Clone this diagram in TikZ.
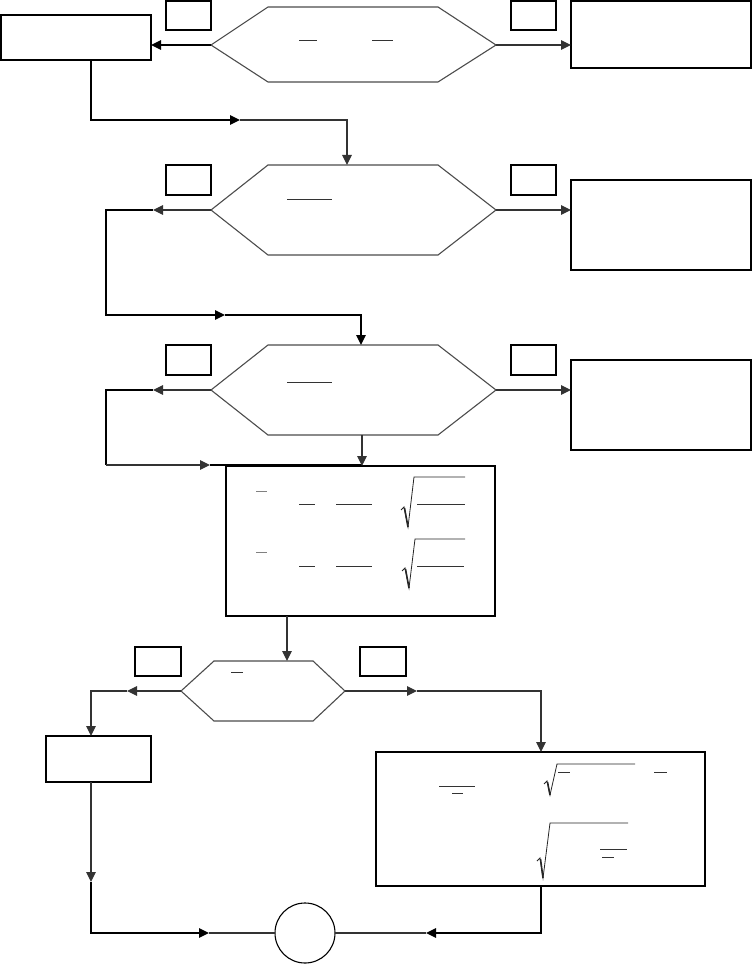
\documentclass[tikz,border=0pt]{standalone}
\usetikzlibrary{arrows.meta}
\begin{document}
\begin{tikzpicture}[x=1pt,y=-1pt,
  bx/.style={draw=black, line width=1.5pt, inner sep=0pt, outer sep=0pt, anchor=north west, rectangle},
  lbl/.style={bx, minimum width=45pt, minimum height=29pt},
  hexline/.style={draw=black!70, line width=1.1pt, line join=miter},
  conn/.style={draw=black!80, line width=1.1pt},
  conb/.style={draw=black, line width=1.6pt},
  arr/.style={-{Triangle[length=10pt,width=9.5pt]}},
  bar/.style={draw=black!80, line width=0.8pt},
  radstroke/.style={draw=black!85, line width=0.8pt, line join=miter},
]
\useasboundingbox (0,0) rectangle (752,965);

% ---------- boxes ----------
\node[bx, minimum width=150pt, minimum height=45pt] (A) at (1,15) {};
\node[lbl] (L1) at (166,1) {};
\node[lbl] (R1) at (511,1) {};
\node[bx, minimum width=180pt, minimum height=67pt] (B) at (571,1) {};

\node[lbl, minimum height=30pt] (L2) at (166,165) {};
\node[lbl, minimum height=30pt] (R2) at (511,165) {};
\node[bx, minimum width=180pt, minimum height=90pt] (C) at (571,180) {};

\node[lbl, minimum height=30pt] (L3) at (166,345) {};
\node[lbl, minimum height=30pt] (R3) at (511,345) {};
\node[bx, minimum width=180pt, minimum height=90pt] (D) at (571,360) {};

\node[bx, minimum width=269pt, minimum height=150pt] (E) at (226,466) {};

\node[lbl, minimum width=46pt] (L4) at (135,647) {};
\node[lbl, minimum width=46pt] (R4) at (360,647) {};

\node[bx, minimum width=105pt, minimum height=46pt] (F) at (46,736) {};
\node[bx, minimum width=329pt, minimum height=134pt] (G) at (376,752) {};

\node[draw=black, line width=1.1pt, circle, minimum size=60pt, inner sep=0pt, outer sep=0pt] (O) at (305,933) {};

% ---------- hexagons ----------
\coordinate (h1w) at (211,45);  \coordinate (h1e) at (496,45);
\draw[hexline] (h1w) -- (268,7) -- (438,7) -- (h1e) -- (438,82) -- (268,82) -- cycle;
\coordinate (h2w) at (211,210); \coordinate (h2e) at (496,210); \coordinate (h2n) at (347,165);
\draw[hexline] (h2w) -- (268,165) -- (438,165) -- (h2e) -- (438,255) -- (268,255) -- cycle;
\coordinate (h3w) at (211,390); \coordinate (h3e) at (496,390);
\coordinate (h3n) at (361,345); \coordinate (h3s) at (362,435);
\draw[hexline] (h3w) -- (268,345) -- (438,345) -- (h3e) -- (438,435) -- (268,435) -- cycle;
\coordinate (h4w) at (181,691); \coordinate (h4e) at (345,691);
\coordinate (h4n) at (287,661);
\draw[hexline] (h4w) -- (214,661) -- (313,661) -- (h4e) -- (313,721) -- (214,721) -- cycle;

% ---------- formula strokes (hexagons) ----------
\draw[bar] (299,40) -- (317,40);
\draw[bar] (372,40) -- (393,40);
\draw[bar] (287,199) -- (332,199);
\draw[bar] (287,382) -- (332,382);
\draw[bar] (231,672) -- (243,672);

% ---------- formula strokes (box E) ----------
\draw[bar, draw=black!50] (256,491) -- (267,491);
\draw[bar] (299,504) -- (315,504);
\draw[bar] (336,504) -- (372,504);
\draw[radstroke] (401,510) -- (404,507) -- (408,527) -- (414,477) -- (465,477);
\draw[radstroke, line width=1.6pt] (404.5,508) -- (408,527);
\draw[bar] (417,504) -- (465,504);
\draw[bar, draw=black!50] (256,552) -- (267,552);
\draw[bar] (299,566) -- (315,566);
\draw[bar] (336,566) -- (372,566);
\draw[radstroke] (402,571) -- (405,568) -- (409,588) -- (415,539) -- (465,539);
\draw[radstroke, line width=1.6pt] (405.5,569) -- (409,588);
\draw[bar] (417,566) -- (464,566);

% ---------- formula strokes (box G) ----------
\draw[bar] (439,786) -- (475,786);
\draw[bar] (452,793) -- (463,793);
\draw[radstroke] (544,784) -- (547,781) -- (550,795) -- (557,764) -- (635,764);
\draw[radstroke, line width=1.6pt] (547.5,782) -- (550,795);
\draw[bar] (558,772) -- (570,772);
\draw[bar] (654,772) -- (667,772);
\draw[radstroke] (537,861) -- (540,858) -- (543,878) -- (550,823) -- (628,823);
\draw[radstroke, line width=1.6pt] (540.5,859) -- (543,878);
\draw[bar] (600,849) -- (627,849);
\draw[bar] (602,857) -- (614,857);

% ---------- connectors: row 1 ----------
\draw[conb, arr] (h1w) -- (h1w -| A.east);
\draw[conn, arr] (h1e) -- (h1e -| B.west);
\coordinate (k1) at (91,120);
\coordinate (m1) at (240,120);
\draw[conb, arr] (k1 |- A.south) -- (k1) -- (m1);
\draw[conn, arr] (m1) -- (m1 -| h2n) -- (h2n);

% ---------- connectors: row 2 ----------
\draw[conn, arr] (h2e) -- (h2e -| C.west);
\coordinate (m2a) at (153,210);
\coordinate (k2) at (106,315);
\coordinate (m2b) at (225,315);
\draw[conn, arr] (h2w) -- (m2a);
\draw[conb, arr] (m2a) -- (m2a -| k2) -- (k2) -- (m2b);
\draw[conb, arr] (m2b) -- (m2b -| h3n) -- (h3n);

% ---------- connectors: row 3 ----------
\draw[conn, arr] (h3e) -- (h3e -| D.west);
\coordinate (m3a) at (153,390);
\coordinate (k3) at (106,465);
\coordinate (m3b) at (210,465);
\draw[conn, arr] (h3w) -- (m3a);
\draw[conb] (m3a) -- (m3a -| k3) -- (k3);
\draw[conn, arr] (k3) -- (m3b);
\draw[conb] (m3b) -- (m3b -| h3s);
\draw[conn, arr] (h3s) -- (h3s |- E.north);

% ---------- connectors: lower part ----------
\draw[conn, arr] (h4n |- E.south) -- (h4n);
\coordinate (m4a) at (127,691);
\coordinate (m4b) at (417,691);
\coordinate (k4a) at (91,691);
\coordinate (k4b) at (541,691);
\draw[conn, arr] (h4w) -- (m4a);
\draw[conn, arr] (m4a) -- (k4a) -- (k4a |- F.north);
\draw[conn, arr] (h4e) -- (m4b);
\draw[conn, arr] (m4b) -- (k4b) -- (k4b |- G.north);

\coordinate (m5a) at (91,882);
\coordinate (k5a) at (91,933);
\coordinate (m5b) at (209,933);
\draw[conn, arr] (m5a |- F.south) -- (m5a);
\draw[conb, arr] (m5a) -- (k5a) -- (m5b);
\draw[conn] (m5b) -- (O.west);

\coordinate (k5b) at (541,933);
\coordinate (m5c) at (426,933);
\draw[conb, arr] (k5b |- G.south) -- (k5b) -- (m5c);
\draw[conn] (m5c) -- (O.east);
\end{tikzpicture}
\end{document}
